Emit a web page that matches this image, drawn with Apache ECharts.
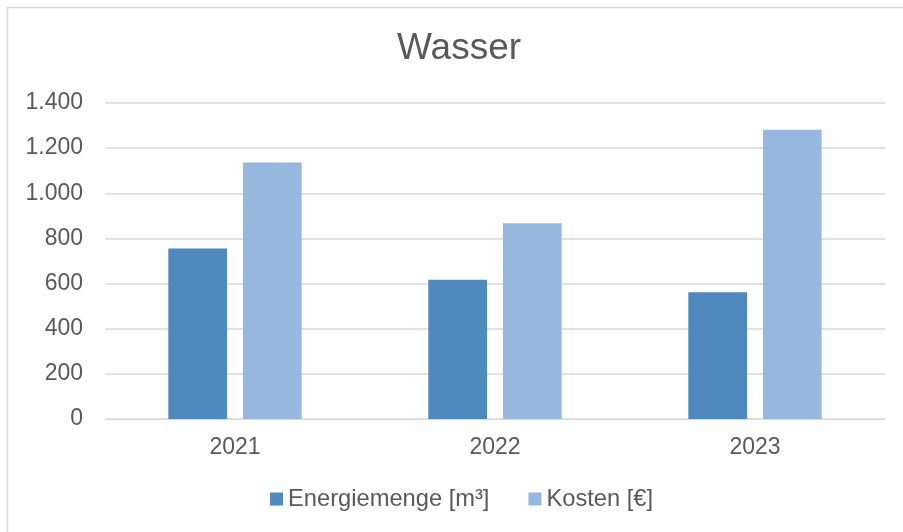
<!DOCTYPE html>
<html><head><meta charset="utf-8">
<script src="https://cdn.jsdelivr.net/npm/echarts@6/dist/echarts.min.js"></script>
<style>html,body{margin:0;padding:0;background:#fff}#c{width:903px;height:532px}</style>
</head><body><div id="c"></div>
<script>
const categories = ['2021', '2022', '2023'];
const energiemenge = [755, 617, 562];
const kosten = [1136, 867, 1281];
const yTicks = { min: 0, max: 1400, interval: 200 };

const chart = echarts.init(document.getElementById('c'), null, { renderer: 'canvas' });
const font = 'Liberation Sans, Arial, sans-serif';
const fmt = v => String(v).replace(/\B(?=(\d{3})+(?!\d))/g, '.');
chart.setOption({
  animation: false,
  textStyle: { fontFamily: font },
  graphic: [{ type: 'rect', shape: { x: 7.5, y: 7.5, width: 1000, height: 600 }, style: { fill: 'none', stroke: '#d9d9d9', lineWidth: 1.5 } }],
  title: { text: 'Wasser', left: 397, top: 30, padding: 0, textStyle: { fontFamily: font, fontSize: 37, fontWeight: 'normal', color: '#595959' } },
  legend: {
    top: 487, left: 270, padding: 0, itemWidth: 13, itemHeight: 13, itemGap: 39,
    icon: 'rect',
    textStyle: { fontFamily: font, fontSize: 23.7, color: '#595959' },
    data: ['Energiemenge [m³]', 'Kosten [€]']
  },
  grid: { left: 105, right: 18, top: 103, bottom: 113, containLabel: false },
  xAxis: {
    type: 'category', data: categories,
    axisLine: { lineStyle: { color: '#d9d9d9', width: 1 } },
    axisTick: { show: false },
    axisLabel: { fontFamily: font, fontSize: 23, color: '#595959', margin: 17 }
  },
  yAxis: {
    type: 'value', min: yTicks.min, max: yTicks.max, interval: yTicks.interval,
    axisLine: { show: false }, axisTick: { show: false },
    splitLine: { lineStyle: { color: '#d9d9d9', width: 1.5 } },
    axisLabel: { fontFamily: font, fontSize: 23, color: '#595959', margin: 22, formatter: fmt }
  },
  series: [
    { name: 'Energiemenge [m³]', type: 'bar', data: energiemenge, barWidth: '22.6%', barGap: '27%', itemStyle: { color: '#4F89BD' } },
    { name: 'Kosten [€]', type: 'bar', data: kosten, barWidth: '22.6%', itemStyle: { color: '#96B8DF' } }
  ]
});
</script></body></html>
